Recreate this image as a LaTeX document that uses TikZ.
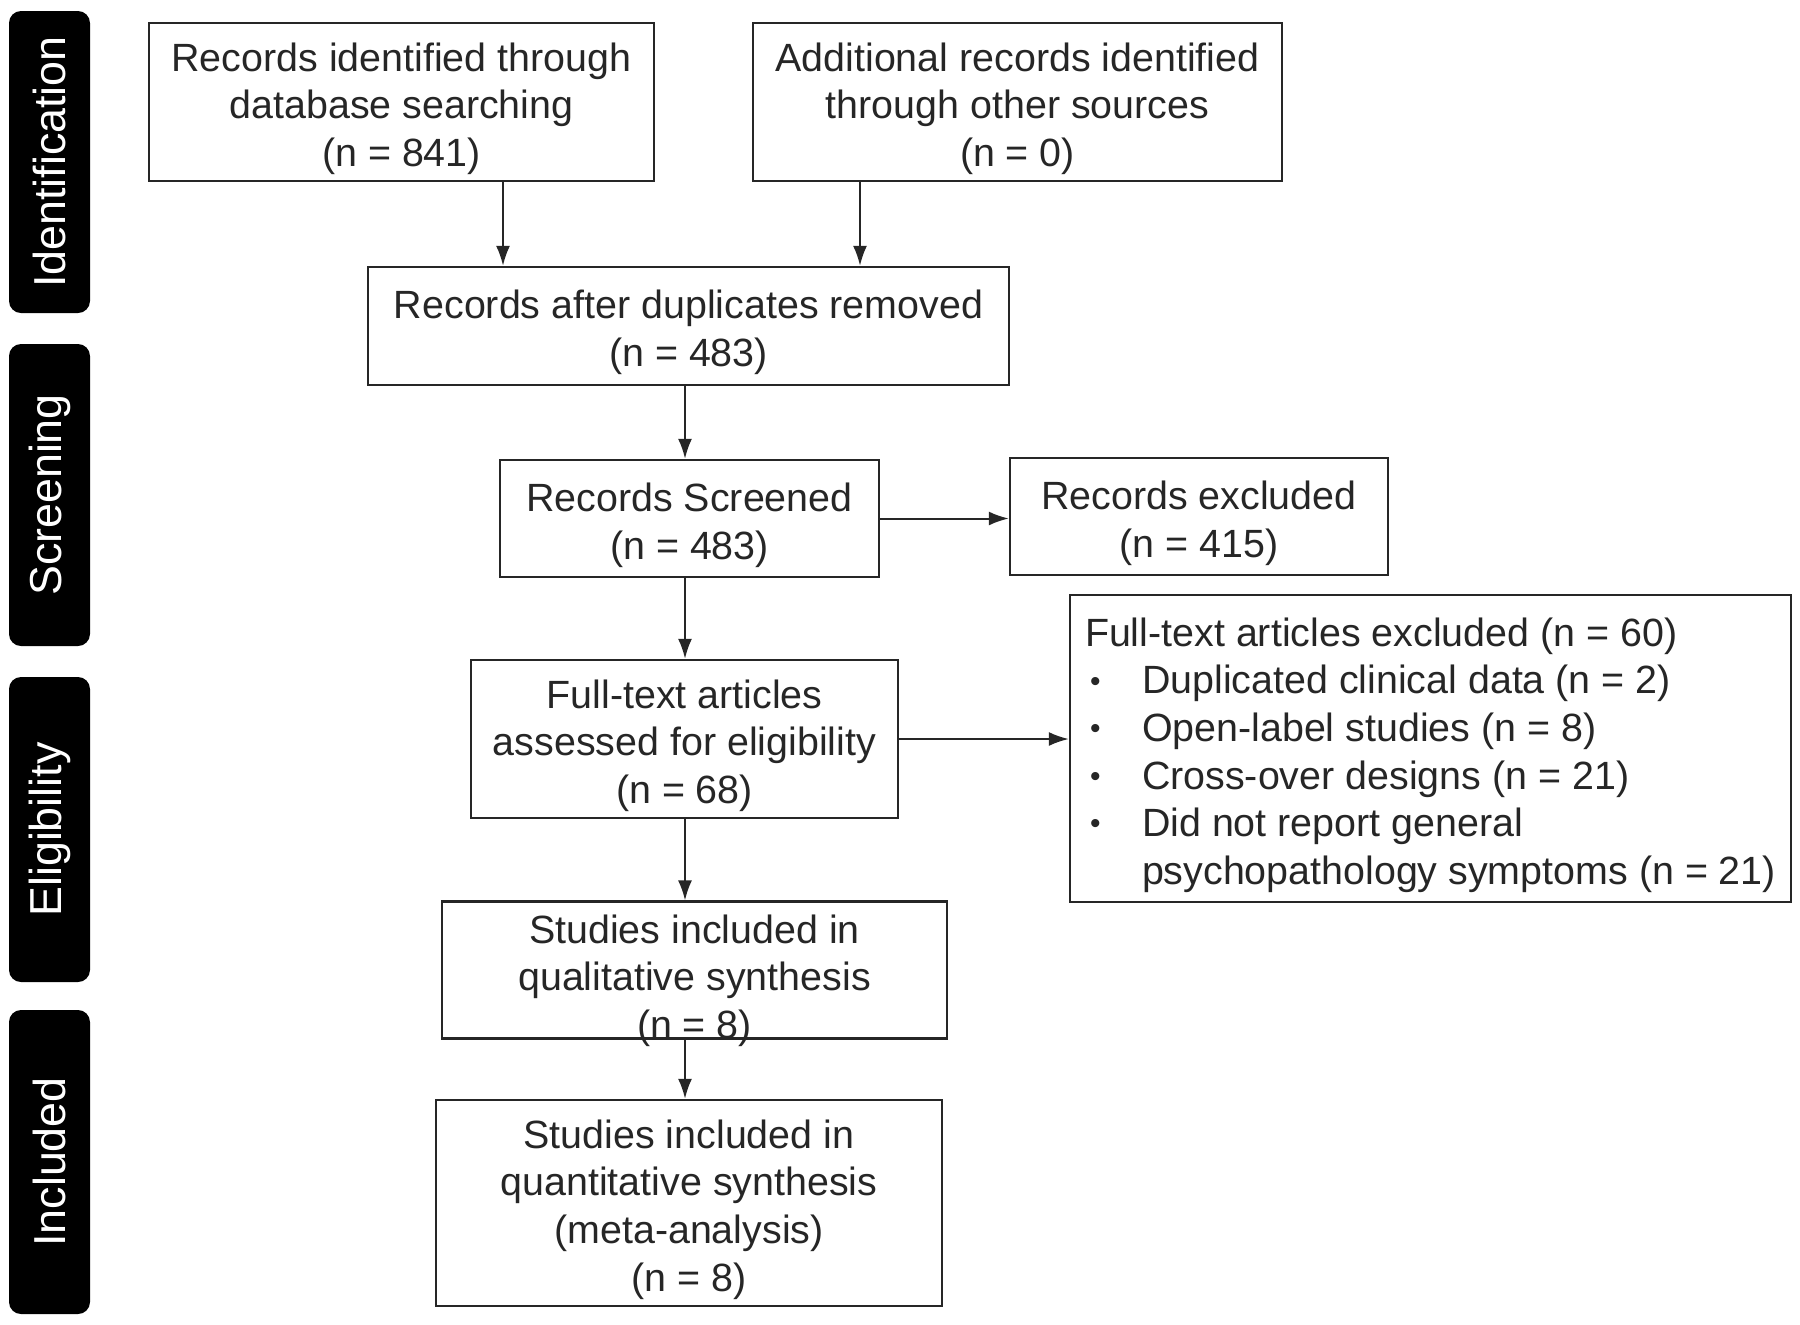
\documentclass[tikz,border=0pt]{standalone}
\usepackage{fontspec}
\setmainfont{Liberation Sans}
\usetikzlibrary{arrows.meta}
\definecolor{ink}{gray}{0.15}
\newcommand*{\nrec}[1]{(n = #1)}
\newcommand*{\headstrut}{\rule{0pt}{20.8pt}}
\newcommand*{\bul}{\makebox[28.5pt][l]{\hspace{2.5pt}\raisebox{1.4pt}{\fontsize{15}{15}\selectfont\textbullet}}}
\newcommand*{\indnt}{\makebox[28.5pt]{}}

\begin{document}
\begin{tikzpicture}[x=0.5pt, y=-0.5pt]
  \useasboundingbox (0,0) rectangle (1800,1324);
  \tikzstyle{arr}=[draw=ink, line width=1pt, -{Latex[length=10pt, width=7pt]}]

  % phase bars on the left
  {\tikzstyle{every node}=[rectangle, rounded corners=6pt, fill=black, text=white,
     rotate=90, minimum height=40.5pt, inner sep=0pt, font=\fontsize{22.4}{27}\selectfont]
    \foreach \stage/\y/\h in {Identification/162/302, Screening/495/302,
                              Eligibility/829.5/305, Included/1162/304}
    {
      \node[minimum width=\h*0.5pt] (\stage) at (49.5, \y) {\stage};
    }
  }

  % flow boxes
  {\tikzstyle{every node}=[rectangle, draw=ink, line width=1.2pt, text=ink,
     align=center, inner sep=0pt, font=\fontsize{19.7}{23.8}\selectfont]
    \node[minimum width=252.5pt, minimum height=79pt] (found) at (401.5, 102)
      {\headstrut Records identified through\\database searching\\\nrec{841}};
    \node[minimum width=264.5pt, minimum height=79pt] (other) at (1017.5, 102)
      {\headstrut Additional records identified\\through other sources\\\nrec{0}};
    \node[minimum width=320.5pt, minimum height=59pt] (merged) at (688.5, 326)
      {\headstrut Records after duplicates removed\\\nrec{483}};
    \node[minimum width=189.5pt, minimum height=58.5pt] (screened) at (689.5, 518.5)
      {\headstrut Records Screened\\\nrec{483}};
    \node[minimum width=189pt, minimum height=58.5pt] (dropped) at (1199, 516.5)
      {\headstrut Records excluded\\\nrec{415}};
    \node[minimum width=213.5pt, minimum height=79pt] (assessed) at (684.5, 739)
      {\headstrut Full-text articles\\assessed for eligibility\\\nrec{68}};
    \node[minimum width=360.5pt, minimum height=153.5pt, align=left] (rejected) at (1430.5, 748.5)
      {\headstrut Full-text articles excluded \nrec{60}\\
       \bul Duplicated clinical data \nrec{2}\\
       \bul Open-label studies \nrec{8}\\
       \bul Cross-over designs \nrec{21}\\
       \bul Did not report general\\
       \indnt psychopathology symptoms \nrec{21}};
    \node[minimum width=252.5pt, minimum height=68pt] (qual) at (694.5, 970)
      {\headstrut Studies included in\\qualitative synthesis\\\raisebox{0pt}[\height][0pt]{\nrec{8}}};
    \node[minimum width=253pt, minimum height=103pt] (quant) at (689, 1203)
      {\headstrut Studies included in\\quantitative synthesis\\(meta-analysis)\\\nrec{8}};
  }

  \coordinate (lfeed) at (503, 0);
  \coordinate (rfeed) at (860, 0);
  \coordinate (spine) at (685, 0);

  \draw[arr] (found.south -| lfeed) -- (merged.north -| lfeed);
  \draw[arr] (other.south -| rfeed) -- (merged.north -| rfeed);
  \draw[arr] (merged.south -| spine) -- (screened.north -| spine);
  \draw[arr] (screened.south -| spine) -- (assessed.north -| spine);
  \draw[arr] (assessed.south -| spine) -- (qual.north -| spine);
  \draw[arr] (qual.south -| spine) -- (quant.north -| spine);

  \draw[arr] (screened.east) -- (screened.east -| dropped.west);
  \draw[arr] (assessed.east) -- (assessed.east -| rejected.west);
\end{tikzpicture}
\end{document}
